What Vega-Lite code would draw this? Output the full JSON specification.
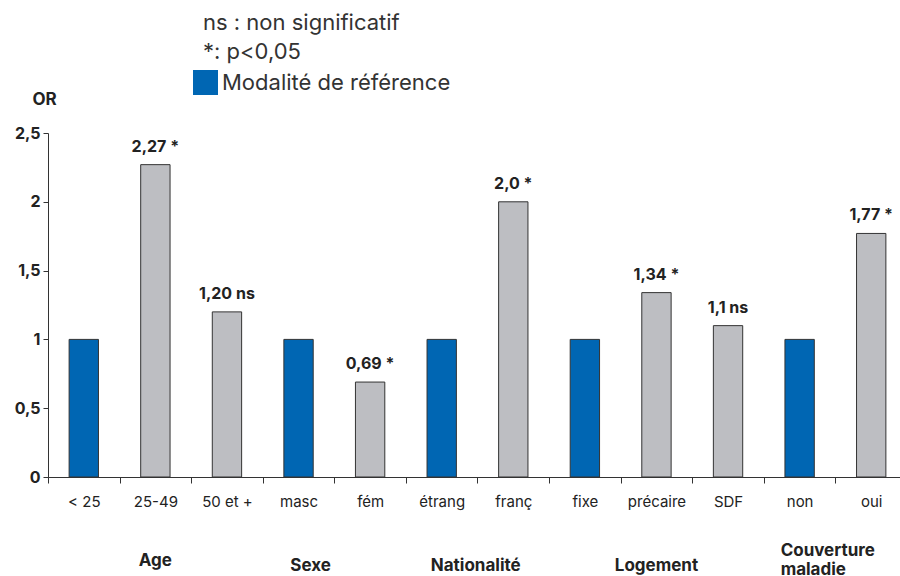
{
  "$schema": "https://vega.github.io/schema/vega-lite/v6.json",
  "width": 852,
  "height": 344,
  "autosize": {"type": "none"},
  "padding": {"left": 48, "top": 133, "right": 0, "bottom": 99},
  "background": "white",
  "config": {
    "font": "Inter",
    "view": {"stroke": null},
    "axis": {"grid": false}
  },
  "title": {
    "text": ["ns : non significatif", "*: p<0,05"],
    "anchor": "start",
    "frame": "group",
    "dx": 155,
    "fontSize": 22,
    "fontWeight": "normal",
    "font": "Inter",
    "color": "#333333",
    "lineHeight": 29,
    "offset": 6
  },
  "data": {
    "values": [
      {"cat": "< 25", "or": 1, "label": "", "type": "Modalité de référence"},
      {"cat": "25-49", "or": 2.27, "label": "2,27 *", "type": "Autre"},
      {"cat": "50 et +", "or": 1.2, "label": "1,20 ns", "type": "Autre"},
      {"cat": "masc", "or": 1, "label": "", "type": "Modalité de référence"},
      {"cat": "fém", "or": 0.69, "label": "0,69 *", "type": "Autre"},
      {"cat": "étrang", "or": 1, "label": "", "type": "Modalité de référence"},
      {"cat": "franç", "or": 2.0, "label": "2,0 *", "type": "Autre"},
      {"cat": "fixe", "or": 1, "label": "", "type": "Modalité de référence"},
      {"cat": "précaire", "or": 1.34, "label": "1,34 *", "type": "Autre"},
      {"cat": "SDF", "or": 1.1, "label": "1,1 ns", "type": "Autre"},
      {"cat": "non", "or": 1, "label": "", "type": "Modalité de référence"},
      {"cat": "oui", "or": 1.77, "label": "1,77 *", "type": "Autre"}
    ]
  },
  "encoding": {
    "y": {
      "field": "or",
      "type": "quantitative",
      "scale": {"domain": [0, 2.5], "nice": false},
      "axis": {
        "values": [0, 0.5, 1, 1.5, 2, 2.5],
        "labelExpr": "replace(format(datum.value, '~g'), '.', ',')",
        "labelFontSize": 16,
        "labelFontWeight": "bold",
        "labelColor": "#222222",
        "labelPadding": 3,
        "tickSize": 5,
        "tickColor": "#333333",
        "domainColor": "#333333",
        "title": "OR",
        "titleAngle": 0,
        "titleAlign": "center",
        "titleBaseline": "alphabetic",
        "titleX": -4,
        "titleY": -29,
        "titleFontSize": 17,
        "titleFontWeight": "bold",
        "titleColor": "#222222"
      }
    }
  },
  "layer": [
    {
      "mark": {"type": "bar", "width": {"band": 0.41}, "stroke": "#333333", "strokeWidth": 1},
      "encoding": {
        "x": {
          "field": "cat",
          "type": "nominal",
          "sort": null,
          "scale": {"range": [0, 859], "paddingInner": 0, "paddingOuter": 0},
          "axis": {
            "title": null,
            "labelAngle": 0,
            "labelFontSize": 15,
            "labelColor": "#222222",
            "labelPadding": 11,
            "labelOverlap": false,
            "tickBand": "extent",
            "tickSize": 6,
            "tickColor": "#333333",
            "domainColor": "#333333"
          }
        },
        "color": {
          "field": "type",
          "type": "nominal",
          "scale": {"domain": ["Modalité de référence", "Autre"], "range": ["#0066B3", "#BDBEC2"]},
          "legend": {
            "values": ["Modalité de référence"],
            "title": null,
            "orient": "none",
            "legendX": 145,
            "legendY": -63,
            "padding": 0,
            "symbolType": "square",
            "symbolSize": 625,
            "symbolStrokeWidth": 0,
            "symbolOpacity": 1,
            "labelFontSize": 22,
            "labelColor": "#333333",
            "labelOffset": 4,
            "labelLimit": 400
          }
        }
      }
    },
    {
      "mark": {"type": "text", "dy": -13, "baseline": "alphabetic", "fontSize": 16, "fontWeight": "bold", "color": "#222222"},
      "encoding": {
        "x": {
          "field": "cat",
          "type": "nominal",
          "sort": null,
          "axis": {
            "orient": "bottom",
            "title": null,
            "domain": false,
            "ticks": false,
            "labelAngle": 0,
            "labelOverlap": false,
            "labelFontSize": 17,
            "labelFontWeight": "bold",
            "labelColor": "#222222",
            "labelLineHeight": 19,
            "labelExpr": "datum.value == '25-49' ? 'Age' : datum.value == 'masc' ? 'Sexe' : datum.value == 'étrang' ? 'Nationalité' : datum.value == 'précaire' ? 'Logement' : datum.value == 'non' ? ['Couverture', 'maladie'] : ''",
            "labelPadding": {"condition": [{"test": "datum.value == '25-49'", "value": 75}, {"test": "datum.value == 'non'", "value": 65}], "value": 80},
            "labelOffset": {"condition": [{"test": "datum.value == 'masc'", "value": 12}, {"test": "datum.value == 'étrang'", "value": 34}, {"test": "datum.value == 'non'", "value": -19}], "value": 0},
            "labelAlign": {"condition": {"test": "datum.value == 'non'", "value": "left"}, "value": "center"}
          }
        },
        "text": {"field": "label"}
      }
    }
  ],
  "resolve": {"axis": {"x": "independent"}}
}
